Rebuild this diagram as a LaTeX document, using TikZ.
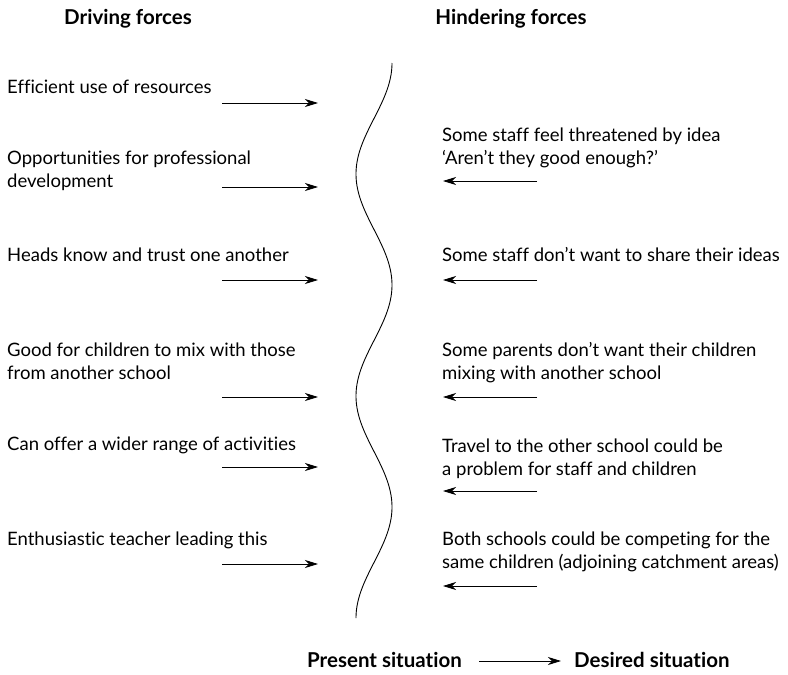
\documentclass[tikz,border=0pt]{standalone}
\usepackage{fontspec}
\setmainfont{Lato}[Ligatures={NoCommon}]
\usetikzlibrary{arrows.meta}
\begin{document}
\begin{tikzpicture}[x=1pt,y=-1pt,
  lbl/.style={inner sep=0pt,align=left,anchor=north west,font=\fontsize{18.5}{23}\selectfont},
  hdr/.style={inner sep=0pt,anchor=base,font=\fontsize{20.5}{23}\selectfont\bfseries},
  force/.style={line width=0.8pt,-{Stealth[length=13pt,width=8pt,inset=4pt]}},
  wave/.style={line width=0.9pt}]
\useasboundingbox (0,0) rectangle (788,675);
% headers
\node[hdr] (hd) at (128,24) {Driving forces};
\node[hdr] (hh) at (511,24) {Hindering forces};
% wave
\draw[wave] plot[domain=63:618, samples=200, smooth, variable=\t] ({374+18*cos((\t-63)/111*180)}, {\t});
% driving texts
\node[lbl] (d1) at (7,79.5) {Efficient use of resources};
\node[lbl] (d2) at (7,150.5) {Opportunities for professional\\development};
\node[lbl] (d3) at (7,247.5) {Heads know and trust one another};
\node[lbl] (d4) at (7,342.5) {Good for children to mix with those\\from another school};
\node[lbl] (d5) at (7,436.5) {Can offer a wider range of activities};
\node[lbl] (d6) at (7,531.5) {Enthusiastic teacher leading this};
% hindering texts
\node[lbl] (h1) at (442,127.5) {Some staff feel threatened by idea\\‘Aren’t they good enough?’};
\node[lbl] (h2) at (442,247.5) {Some staff don’t want to share their ideas};
\node[lbl] (h3) at (442,342.5) {Some parents don’t want their children\\mixing with another school};
\node[lbl] (h4) at (442,438.5) {Travel to the other school could be\\a problem for staff and children};
\node[lbl] (h5) at (442,531.5) {Both schools could be competing for the\\same children (adjoining catchment areas)};
% arrow ends
\foreach \n/\y in {1/103,2/187,3/280,4/397,5/467,6/564}{
  \coordinate (ds\n) at (222,\y);
  \coordinate (de\n) at (318,\y);
}
\foreach \n/\y in {1/181,2/280,3/397,4/491,5/586}{
  \coordinate (hs\n) at (537,\y);
  \coordinate (he\n) at (443,\y);
}
\foreach \n in {1,...,6}{\draw[force] (ds\n) -- (de\n);}
\foreach \n in {1,...,5}{\draw[force] (hs\n) -- (he\n);}
% bottom
\node[hdr,anchor=base west] (ps) at (307,667) {Present situation};
\node[hdr,anchor=base west] (ds) at (574,667) {Desired situation};
\coordinate (pa) at (479,661);
\coordinate (pb) at (561,661);
\draw[force] (pa) -- (pb);
\end{tikzpicture}
\end{document}
